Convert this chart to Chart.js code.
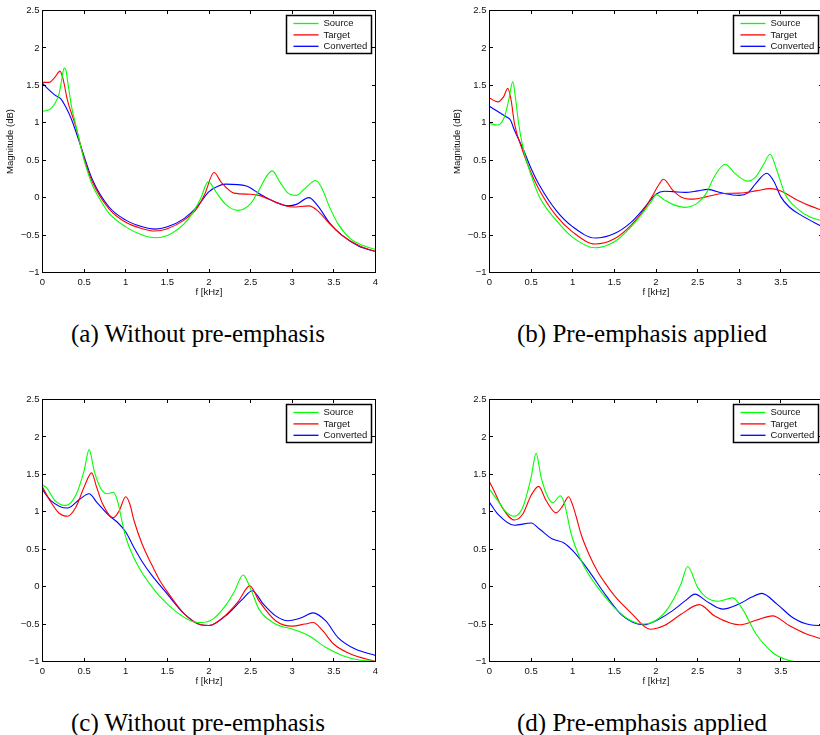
<!DOCTYPE html>
<html>
<head>
<meta charset="utf-8">
<script src="https://cdn.jsdelivr.net/npm/chart.js@4.4.0/dist/chart.umd.min.js"></script>
<style>
  body { margin: 0; background: #fff; width: 820px; height: 735px; overflow: hidden; position: relative; }
  canvas { position: absolute; }
  .cap { position: absolute; width: 400px; text-align: center; font-family: "Liberation Serif", serif; font-size: 25px; line-height: 26px; color: #000; }
</style>
</head>
<body>
<canvas id="ca" width="410" height="300" style="left:0px;top:0px"></canvas>
<canvas id="cb" width="410" height="300" style="left:447px;top:0px"></canvas>
<canvas id="cc" width="410" height="300" style="left:0px;top:389px"></canvas>
<canvas id="cd" width="410" height="300" style="left:447px;top:389px"></canvas>
<div class="cap" style="left:-2px;top:321px">(a) Without pre-emphasis</div>
<div class="cap" style="left:442px;top:321px">(b) Pre-emphasis applied</div>
<div class="cap" style="left:-2px;top:710px">(c) Without pre-emphasis</div>
<div class="cap" style="left:442px;top:710px">(d) Pre-emphasis applied</div>
<script>
var seriesLabels = ["Source", "Target", "Converted"];
var xTicks = [0, 0.5, 1, 1.5, 2, 2.5, 3, 3.5, 4];
var yTicks = [-1, -0.5, 0, 0.5, 1, 1.5, 2, 2.5];

// (a) without pre-emphasis
var aSourceF = [0,0.1,0.15,0.2,0.23,0.26,0.28,0.3,0.35,0.4,0.5,0.6,0.7,0.8,1.0,1.2,1.35,1.5,1.7,1.8,1.9,1.99,2.1,2.2,2.35,2.5,2.6,2.7,2.76,2.85,2.95,3.05,3.15,3.28,3.35,3.45,3.55,3.7,3.85,4.0];
var aSourceV = [1.15,1.19,1.26,1.39,1.57,1.73,1.71,1.57,1.21,0.97,0.5,0.165,-0.04,-0.21,-0.39,-0.5,-0.535,-0.505,-0.35,-0.21,-0.01,0.21,0.05,-0.09,-0.17,-0.08,0.1,0.3,0.357,0.21,0.06,0.03,0.12,0.23,0.14,-0.13,-0.35,-0.55,-0.64,-0.69];
var aTargetF = [0,0.08,0.15,0.21,0.25,0.3,0.4,0.5,0.6,0.8,1.0,1.2,1.35,1.5,1.7,1.85,1.95,2.06,2.15,2.3,2.5,2.6,2.8,3.0,3.2,3.3,3.45,3.6,3.8,4.0];
var aTargetV = [1.54,1.54,1.61,1.69,1.57,1.30,0.95,0.52,0.21,-0.15,-0.33,-0.415,-0.446,-0.415,-0.30,-0.15,0.05,0.335,0.2,0.06,0.045,0.03,-0.06,-0.125,-0.11,-0.17,-0.35,-0.505,-0.64,-0.72];
var aConvF = [0,0.05,0.15,0.22,0.28,0.35,0.45,0.6,0.8,1.0,1.2,1.35,1.5,1.7,1.85,2.0,2.1,2.2,2.45,2.5,2.6,2.8,2.95,3.05,3.2,3.3,3.45,3.6,3.8,4.0];
var aConvV = [1.53,1.47,1.37,1.32,1.21,1.04,0.72,0.24,-0.125,-0.30,-0.39,-0.42,-0.39,-0.28,-0.13,0.08,0.15,0.18,0.155,0.13,0.055,-0.06,-0.11,-0.09,0.0,-0.10,-0.34,-0.505,-0.65,-0.72];

// (b) pre-emphasis applied
var bSourceF = [0,0.1,0.18,0.23,0.28,0.31,0.35,0.4,0.5,0.6,0.8,1.0,1.27,1.5,1.7,1.85,1.95,2.0,2.1,2.2,2.35,2.5,2.6,2.7,2.83,2.95,3.1,3.2,3.3,3.37,3.45,3.55,3.7,3.85,4.0];
var bSourceV = [0.99,0.97,1.08,1.30,1.55,1.35,0.99,0.68,0.30,0.01,-0.30,-0.53,-0.67,-0.59,-0.39,-0.19,-0.04,0.04,-0.03,-0.09,-0.13,-0.07,0.05,0.28,0.446,0.32,0.22,0.28,0.46,0.58,0.37,0.05,-0.15,-0.26,-0.31];
var bTargetF = [0,0.1,0.17,0.22,0.26,0.3,0.4,0.5,0.6,0.8,1.0,1.27,1.5,1.7,1.85,1.95,2.03,2.09,2.2,2.3,2.45,2.6,2.8,3.0,3.2,3.37,3.5,3.7,3.85,4.0];
var bTargetV = [1.33,1.28,1.35,1.46,1.30,0.99,0.62,0.33,0.10,-0.24,-0.46,-0.62,-0.55,-0.37,-0.17,0.01,0.165,0.245,0.10,0.01,-0.02,0.01,0.055,0.06,0.09,0.12,0.09,-0.035,-0.11,-0.17];
var bConvF = [0,0.1,0.2,0.25,0.3,0.4,0.5,0.6,0.8,1.0,1.27,1.5,1.7,1.85,2.0,2.1,2.2,2.35,2.5,2.62,2.8,3.0,3.1,3.2,3.33,3.42,3.5,3.6,3.75,4.0];
var bConvV = [1.22,1.15,1.08,1.04,0.9,0.66,0.39,0.165,-0.17,-0.39,-0.54,-0.48,-0.33,-0.15,0.045,0.085,0.08,0.07,0.09,0.11,0.06,0.03,0.06,0.19,0.326,0.21,0.01,-0.125,-0.24,-0.39];

// (c) without pre-emphasis
var cSourceF = [0,0.05,0.15,0.28,0.4,0.5,0.56,0.62,0.7,0.78,0.85,0.9,0.95,1.0,1.1,1.2,1.3,1.4,1.6,1.8,1.9,2.05,2.2,2.3,2.41,2.5,2.6,2.8,3.0,3.2,3.4,3.6,3.8,4.0];
var cSourceV = [1.36,1.32,1.15,1.085,1.22,1.55,1.83,1.55,1.31,1.24,1.26,1.15,0.9,0.66,0.38,0.18,0.02,-0.12,-0.33,-0.465,-0.48,-0.43,-0.25,-0.075,0.156,-0.03,-0.30,-0.5,-0.567,-0.656,-0.81,-0.92,-0.98,-1.0];
var cTargetF = [0,0.1,0.2,0.3,0.4,0.5,0.59,0.65,0.72,0.85,0.92,1.0,1.05,1.1,1.2,1.3,1.4,1.5,1.7,1.9,2.0,2.2,2.35,2.49,2.6,2.8,3.0,3.15,3.25,3.35,3.5,3.7,4.0];
var cTargetV = [1.33,1.13,0.98,0.94,1.06,1.33,1.52,1.33,1.11,0.92,1.01,1.20,1.1,0.88,0.56,0.32,0.1,-0.07,-0.36,-0.51,-0.52,-0.38,-0.2,0.01,-0.19,-0.455,-0.527,-0.5,-0.48,-0.567,-0.77,-0.90,-1.0];
var cConvF = [0,0.1,0.3,0.45,0.56,0.65,0.8,0.9,1.0,1.1,1.2,1.3,1.5,1.7,1.9,2.0,2.2,2.4,2.52,2.65,2.8,2.95,3.1,3.25,3.4,3.55,3.75,4.0];
var cConvV = [1.295,1.15,1.05,1.17,1.24,1.13,0.95,0.86,0.73,0.52,0.33,0.17,-0.1,-0.36,-0.51,-0.52,-0.39,-0.17,-0.054,-0.23,-0.39,-0.455,-0.42,-0.35,-0.455,-0.68,-0.83,-0.92];

// (d) pre-emphasis applied
var dSourceF = [0,0.1,0.2,0.3,0.4,0.5,0.56,0.62,0.7,0.76,0.85,0.9,0.98,1.1,1.2,1.3,1.5,1.7,1.85,2.0,2.15,2.3,2.38,2.5,2.6,2.75,2.92,3.05,3.2,3.4,3.55,3.7,3.85,4.0];
var dSourceV = [1.30,1.15,0.995,0.94,1.06,1.46,1.78,1.46,1.20,1.12,1.215,1.11,0.71,0.35,0.15,-0.01,-0.28,-0.455,-0.5,-0.45,-0.28,0.035,0.27,-0.01,-0.14,-0.195,-0.15,-0.32,-0.63,-0.88,-0.97,-1.01,-1.08,-1.14];
var dTargetF = [0,0.05,0.15,0.3,0.4,0.5,0.59,0.68,0.8,0.88,0.95,1.0,1.05,1.1,1.2,1.3,1.4,1.5,1.7,1.93,2.1,2.3,2.52,2.7,2.9,3.0,3.2,3.4,3.6,3.8,4.0];
var dTargetV = [1.40,1.29,1.06,0.89,0.97,1.22,1.34,1.15,0.985,1.08,1.20,1.085,0.9,0.7,0.42,0.2,0.03,-0.12,-0.35,-0.57,-0.52,-0.37,-0.24,-0.39,-0.49,-0.51,-0.45,-0.39,-0.52,-0.63,-0.70];
var dConvF = [0,0.1,0.3,0.5,0.6,0.75,0.9,1.0,1.1,1.2,1.4,1.6,1.85,2.0,2.2,2.35,2.47,2.6,2.8,3.0,3.15,3.27,3.45,3.65,3.85,4.0];
var dConvV = [1.125,0.97,0.82,0.85,0.77,0.64,0.58,0.48,0.35,0.2,-0.12,-0.39,-0.51,-0.455,-0.32,-0.19,-0.10,-0.19,-0.30,-0.23,-0.14,-0.09,-0.23,-0.42,-0.51,-0.52];

var lineColors = ["#00ff00", "#ff0000", "#0000ff"];
var font = { family: "'Liberation Sans', Arial, Helvetica, sans-serif", size: 9.5 };

function snap(p) { return Math.round(p - 0.5) + 0.5; }

// matlab style box, inward ticks, legend in the top right corner
var matlabBox = {
  id: "matlabBox",
  afterDatasetsDraw: function (chart) {
    var ctx = chart.ctx, a = chart.chartArea;
    var xs = chart.scales.x, ys = chart.scales.y;
    ctx.save();
    ctx.strokeStyle = "#000";
    ctx.lineWidth = 1;
    ctx.strokeRect(a.left, a.top, a.right - a.left, a.bottom - a.top);
    ctx.beginPath();
    xTicks.forEach(function (v) {
      var px = snap(xs.getPixelForValue(v));
      ctx.moveTo(px, a.bottom); ctx.lineTo(px, a.bottom - 3.5);
      ctx.moveTo(px, a.top); ctx.lineTo(px, a.top + 3.5);
    });
    yTicks.forEach(function (v) {
      var py = snap(ys.getPixelForValue(v));
      ctx.moveTo(a.left, py); ctx.lineTo(a.left + 3.5, py);
      ctx.moveTo(a.right, py); ctx.lineTo(a.right - 3.5, py);
    });
    ctx.stroke();

    // legend
    var w = 85, h = 38;
    var lx = Math.round(a.right - 4.5 - w) + 0.5, ly = Math.round(a.top + 4.5) + 0.5;
    ctx.fillStyle = "#fff";
    ctx.fillRect(lx, ly, w, h);
    ctx.lineWidth = 1.5;
    ctx.strokeRect(lx, ly, w, h);
    ctx.font = font.size + "px " + font.family;
    ctx.textBaseline = "middle";
    chart.data.datasets.forEach(function (ds, i) {
      var y = ly + 8 + i * 11.4;
      ctx.strokeStyle = ds.borderColor;
      ctx.lineWidth = 1.3;
      ctx.beginPath();
      ctx.moveTo(lx + 7, y); ctx.lineTo(lx + 32, y);
      ctx.stroke();
      ctx.fillStyle = "#111";
      ctx.fillText(ds.label, lx + 37, y);
    });
    ctx.restore();
  }
};

function makeChart(id, series, yTitle) {
  var datasets = series.map(function (s, i) {
    return {
      label: seriesLabels[i],
      data: s[0].map(function (f, k) { return { x: f, y: s[1][k] }; }),
      borderColor: lineColors[i],
      borderWidth: 1.1,
      pointRadius: 0,
      fill: false,
      cubicInterpolationMode: "monotone"
    };
  });
  return new Chart(document.getElementById(id).getContext("2d"), {
    type: "line",
    data: { datasets: datasets },
    plugins: [matlabBox],
    options: {
      responsive: false,
      animation: false,
      devicePixelRatio: 1,
      layout: { padding: { top: 10.5, right: 34.5, left: 0, bottom: 0 } },
      plugins: { legend: { display: false }, tooltip: { enabled: false } },
      scales: {
        x: {
          type: "linear", min: 0, max: 4,
          afterBuildTicks: function (s) { s.ticks = xTicks.map(function (v) { return { value: v }; }); },
          afterFit: function (s) { s.height = 27.5; },
          grid: { display: false, drawTicks: false },
          border: { display: false },
          ticks: { font: font, color: "#111", padding: 4, autoSkip: false, maxRotation: 0,
                   callback: function (v) { return String(v); } },
          title: { display: true, text: "f [kHz]", font: font, color: "#111", padding: { top: 0, bottom: 2 } }
        },
        y: {
          type: "linear", min: -1, max: 2.5,
          afterBuildTicks: function (s) { s.ticks = yTicks.map(function (v) { return { value: v }; }); },
          afterFit: function (s) { s.width = 42.5; },
          grid: { display: false, drawTicks: false },
          border: { display: false },
          ticks: { font: font, color: "#111", padding: 3,
                   callback: function (v) { return String(v).replace("-", "\u2212"); } },
          title: { display: yTitle, text: "Magnitude (dB)", font: font, color: "#111", padding: { top: 5, bottom: 0 } }
        }
      }
    }
  });
}

makeChart("ca", [[aSourceF, aSourceV], [aTargetF, aTargetV], [aConvF, aConvV]], true);
makeChart("cb", [[bSourceF, bSourceV], [bTargetF, bTargetV], [bConvF, bConvV]], true);
makeChart("cc", [[cSourceF, cSourceV], [cTargetF, cTargetV], [cConvF, cConvV]], false);
makeChart("cd", [[dSourceF, dSourceV], [dTargetF, dTargetV], [dConvF, dConvV]], false);
</script>
</body>
</html>
